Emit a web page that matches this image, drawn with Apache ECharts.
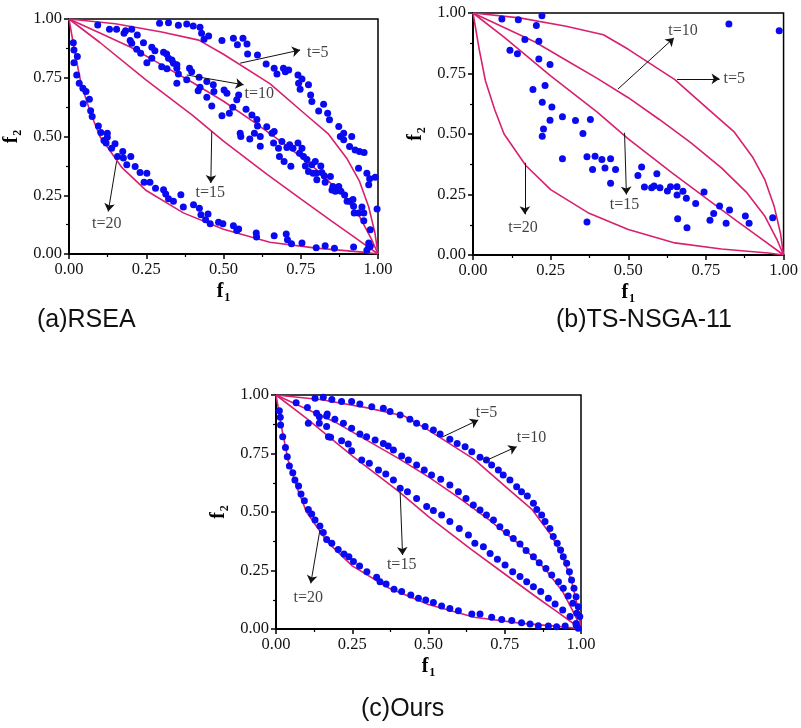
<!DOCTYPE html>
<html>
<head>
<meta charset="utf-8">
<script src="https://cdn.jsdelivr.net/npm/echarts@6/dist/echarts.min.js"></script>
<style>html,body{margin:0;padding:0;background:#fff}#c{width:801px;height:728px}</style>
</head>
<body>
<div id="c"></div>
<script>
// ---------- data ----------
const tickValues = [0, 0.25, 0.5, 0.75, 1];
const panelCaptions = ['(a)RSEA', '(b)TS-NSGA-11', '(c)Ours'];

// true Pareto fronts (polylines)
const curveT5 = [[0,1],[0.15,0.98],[0.3,0.945],[0.42,0.91],[0.5,0.85],[0.65,0.725],[0.76,0.6],[0.84,0.51],[0.9,0.405],[0.94,0.31],[0.97,0.2],[0.99,0.09],[1,0]];
const curveT10 = [[0,1],[0.1,0.94],[0.2,0.88],[0.3,0.805],[0.4,0.73],[0.5,0.65],[0.6,0.56],[0.7,0.465],[0.8,0.36],[0.88,0.26],[0.94,0.16],[0.98,0.06],[1,0]];
const curveT15 = [[0,1],[0.1,0.9],[0.25,0.74],[0.4,0.59],[0.5,0.48],[0.64,0.34],[0.75,0.235],[0.85,0.14],[0.92,0.075],[1,0]];
const curveT20 = [[0,1],[0.02,0.85],[0.04,0.72],[0.07,0.6],[0.1,0.5],[0.17,0.37],[0.25,0.27],[0.37,0.175],[0.5,0.105],[0.65,0.05],[0.8,0.025],[0.95,0.008],[1,0]];

// obtained solutions
const rseaPts = [
[0.014,0.899],[0.016,0.868],[0.027,0.84],[0.016,0.814],[0.025,0.762],[0.033,0.727],[0.045,0.705],[0.055,0.691],[0.046,0.639],[0.066,0.659],
[0.07,0.61],[0.075,0.585],[0.095,0.545],[0.103,0.517],[0.113,0.483],[0.124,0.514],[0.124,0.497],[0.12,0.472],[0.138,0.45],[0.149,0.469],
[0.157,0.415],[0.174,0.436],[0.176,0.408],[0.187,0.38],[0.2,0.415],[0.214,0.372],[0.23,0.347],[0.243,0.305],[0.252,0.344],[0.262,0.305],
[0.28,0.28],[0.306,0.273],[0.313,0.255],[0.322,0.235],[0.338,0.224],[0.362,0.252],[0.37,0.2],[0.403,0.21],[0.422,0.195],[0.427,0.167],
[0.45,0.17],[0.442,0.146],[0.457,0.129],[0.484,0.135],[0.498,0.129],[0.532,0.12],[0.543,0.1],[0.549,0.106],[0.606,0.089],[0.607,0.072],
[0.664,0.078],[0.703,0.085],[0.707,0.061],[0.72,0.044],[0.754,0.047],[0.8,0.027],[0.829,0.035],[0.859,0.025],[0.921,0.03],[0.964,0.016],
[0.97,0.03],[0.975,0.033],
[0.093,0.975],[0.131,0.956],[0.154,0.956],[0.178,0.939],[0.183,0.95],[0.203,0.956],[0.221,0.932],[0.198,0.908],[0.203,0.897],[0.219,0.871],
[0.241,0.899],[0.268,0.88],[0.278,0.865],[0.232,0.854],[0.252,0.814],[0.268,0.833],[0.293,0.982],[0.322,0.984],[0.354,0.973],[0.381,0.979],
[0.402,0.97],[0.424,0.965],[0.429,0.939],[0.437,0.914],[0.452,0.928],[0.306,0.858],[0.316,0.851],[0.322,0.833],[0.333,0.826],[0.338,0.812],
[0.3,0.797],[0.317,0.788],[0.349,0.79],[0.349,0.805],[0.354,0.766],[0.349,0.727],[0.39,0.79],[0.397,0.776],[0.381,0.741],[0.421,0.752],
[0.424,0.71],[0.418,0.695],[0.446,0.734],[0.446,0.667],[0.462,0.63],[0.467,0.72],[0.469,0.691],[0.495,0.908],[0.502,0.698],[0.495,0.588],
[0.511,0.684],[0.519,0.599],[0.53,0.625],[0.532,0.918],[0.545,0.89],[0.563,0.918],[0.576,0.894],[0.578,0.851],[0.549,0.677],[0.543,0.656],
[0.554,0.514],[0.556,0.5],[0.573,0.616],[0.585,0.489],[0.592,0.592],[0.6,0.514],[0.608,0.572],[0.61,0.545],[0.61,0.847],[0.619,0.5],
[0.619,0.458],[0.638,0.809],[0.64,0.542],[0.657,0.514],[0.664,0.79],[0.664,0.521],[0.662,0.472],[0.673,0.766],[0.678,0.45],[0.681,0.415],
[0.694,0.79],[0.7,0.776],[0.711,0.783],[0.689,0.479],[0.696,0.394],[0.705,0.453],[0.714,0.465],[0.718,0.373],[0.725,0.45],[0.741,0.762],
[0.743,0.727],[0.748,0.701],[0.754,0.745],[0.741,0.472],[0.746,0.429],[0.754,0.45],[0.759,0.415],[0.775,0.72],[0.782,0.677],[0.765,0.375],
[0.77,0.402],[0.775,0.351],[0.786,0.649],[0.786,0.38],[0.79,0.344],[0.797,0.394],[0.8,0.344],[0.802,0.316],[0.808,0.609],[0.815,0.375],
[0.818,0.347],[0.824,0.637],[0.826,0.333],[0.829,0.305],[0.837,0.599],[0.843,0.571],[0.846,0.33],[0.851,0.272],[0.854,0.287],[0.862,0.267],
[0.873,0.543],[0.873,0.287],[0.878,0.5],[0.88,0.267],[0.889,0.514],[0.889,0.486],[0.892,0.251],[0.9,0.224],[0.908,0.457],[0.91,0.224],
[0.915,0.5],[0.919,0.232],[0.921,0.203],[0.923,0.174],[0.926,0.443],[0.937,0.365],[0.937,0.174],[0.94,0.436],[0.948,0.2],[0.954,0.174],
[0.955,0.432],[0.964,0.344],[0.97,0.295],[0.954,0.142],[0.973,0.32],[0.975,0.103],[0.991,0.327],[0.997,0.191],[0.97,0.047]
];
const tsPts = [
[0.093,0.975],[0.146,0.972],[0.204,0.948],[0.222,0.989],[0.119,0.846],[0.143,0.832],[0.167,0.89],[0.212,0.883],[0.212,0.81],[0.248,0.787],
[0.193,0.684],[0.232,0.7],[0.223,0.631],[0.254,0.612],[0.248,0.557],[0.227,0.521],[0.223,0.491],[0.288,0.571],[0.33,0.556],[0.378,0.56],
[0.354,0.502],[0.288,0.398],[0.367,0.406],[0.393,0.408],[0.415,0.395],[0.443,0.398],[0.385,0.353],[0.425,0.36],[0.459,0.353],[0.443,0.296],
[0.531,0.329],[0.543,0.364],[0.552,0.281],[0.575,0.278],[0.583,0.285],[0.592,0.336],[0.602,0.278],[0.626,0.264],[0.636,0.282],[0.657,0.282],
[0.657,0.248],[0.676,0.263],[0.687,0.235],[0.717,0.213],[0.744,0.26],[0.659,0.15],[0.689,0.113],[0.763,0.144],[0.775,0.171],[0.794,0.202],
[0.815,0.131],[0.826,0.186],[0.877,0.161],[0.889,0.131],[0.965,0.154],[0.824,0.955],[0.986,0.927],[0.367,0.136]
];
const oursPts = [
[0.011,0.933],[0.014,0.905],[0.015,0.872],[0.022,0.822],[0.031,0.776],[0.037,0.736],[0.044,0.697],[0.055,0.668],[0.062,0.637],[0.074,0.611],
[0.082,0.577],[0.093,0.548],[0.106,0.511],[0.117,0.491],[0.128,0.466],[0.144,0.44],[0.155,0.412],[0.166,0.383],[0.183,0.366],[0.204,0.34],
[0.223,0.32],[0.239,0.309],[0.254,0.288],[0.274,0.269],[0.298,0.245],[0.33,0.221],[0.341,0.202],[0.361,0.192],[0.387,0.17],[0.412,0.16],
[0.442,0.145],[0.467,0.131],[0.491,0.124],[0.516,0.113],[0.543,0.098],[0.57,0.088],[0.598,0.078],[0.642,0.064],[0.669,0.064],[0.707,0.05],
[0.74,0.041],[0.773,0.036],[0.805,0.027],[0.833,0.021],[0.86,0.014],[0.893,0.013],[0.92,0.01],[0.948,0.013],[0.984,0.017],[0.991,0.003],
[0.106,0.879],[0.142,0.907],[0.168,0.919],[0.142,0.879],[0.166,0.865],[0.172,0.822],[0.179,0.819],[0.215,0.805],[0.237,0.791],[0.248,0.762],
[0.281,0.722],[0.306,0.708],[0.336,0.679],[0.36,0.662],[0.385,0.637],[0.407,0.601],[0.431,0.587],[0.461,0.558],[0.494,0.523],[0.516,0.506],
[0.543,0.487],[0.57,0.459],[0.601,0.43],[0.631,0.402],[0.652,0.366],[0.68,0.352],[0.702,0.323],[0.726,0.298],[0.751,0.274],[0.776,0.245],
[0.8,0.224],[0.822,0.202],[0.844,0.181],[0.868,0.16],[0.893,0.131],[0.915,0.107],[0.94,0.081],[0.964,0.053],[0.984,0.024],
[0.066,0.967],[0.103,0.947],[0.133,0.922],[0.166,0.91],[0.193,0.896],[0.221,0.879],[0.248,0.858],[0.275,0.833],[0.297,0.822],[0.325,0.808],
[0.352,0.793],[0.368,0.782],[0.385,0.765],[0.412,0.739],[0.434,0.722],[0.461,0.701],[0.486,0.679],[0.51,0.658],[0.54,0.64],[0.57,0.615],
[0.598,0.587],[0.623,0.558],[0.647,0.53],[0.669,0.509],[0.69,0.487],[0.713,0.466],[0.734,0.437],[0.756,0.412],[0.778,0.387],[0.8,0.363],
[0.82,0.335],[0.844,0.309],[0.863,0.283],[0.885,0.259],[0.904,0.231],[0.926,0.202],[0.942,0.174],[0.958,0.141],[0.973,0.11],[0.986,0.067],
[0.128,0.986],[0.155,0.99],[0.183,0.981],[0.215,0.972],[0.248,0.972],[0.275,0.962],[0.314,0.95],[0.352,0.943],[0.374,0.929],[0.407,0.915],
[0.439,0.896],[0.461,0.879],[0.489,0.865],[0.516,0.85],[0.538,0.833],[0.57,0.811],[0.594,0.793],[0.62,0.779],[0.642,0.758],[0.669,0.734],
[0.69,0.722],[0.707,0.701],[0.729,0.679],[0.745,0.658],[0.767,0.637],[0.789,0.608],[0.805,0.587],[0.824,0.568],[0.844,0.537],[0.855,0.511],
[0.871,0.487],[0.882,0.459],[0.898,0.43],[0.909,0.395],[0.922,0.366],[0.933,0.338],[0.942,0.309],[0.953,0.281],[0.962,0.245],[0.969,0.209],
[0.977,0.174],[0.984,0.138],[0.991,0.095],[0.996,0.053]
];

// annotations: [label, arrow start (on curve), arrow end, label centre] in data units
const annA = [
  ['t=5',  [0.554,0.812],[0.748,0.868],[0.805,0.858]],
  ['t=10', [0.381,0.762],[0.565,0.72], [0.616,0.68]],
  ['t=15', [0.462,0.521],[0.459,0.302],[0.457,0.262]],
  ['t=20', [0.154,0.394],[0.127,0.181],[0.122,0.129]]
];
const annB = [
  ['t=10', [0.467,0.686],[0.647,0.897],[0.676,0.928]],
  ['t=5',  [0.657,0.728],[0.794,0.728],[0.841,0.727]],
  ['t=15', [0.488,0.505],[0.494,0.25], [0.488,0.209]],
  ['t=20', [0.167,0.381],[0.167,0.168],[0.161,0.113]]
];
const annC = [
  ['t=5',  [0.543,0.819],[0.663,0.893],[0.69,0.922]],
  ['t=10', [0.68,0.715], [0.789,0.779],[0.838,0.815]],
  ['t=15', [0.407,0.587],[0.415,0.316],[0.412,0.274]],
  ['t=20', [0.144,0.423],[0.114,0.195],[0.106,0.135]]
];

// ---------- chart ----------
const SERIF = '"Liberation Serif","Times New Roman",serif';
const SANS = '"Liberation Sans",Arial,sans-serif';
const CURVE_COLOR = '#d8206f';
const DOT_COLOR = '#0a0af0';

const grids = [
  {left: 69, top: 19, width: 309, height: 235},
  {left: 473, top: 13, width: 316, height: 242},
  {left: 276, top: 395, width: 305, height: 234}
].map(g => Object.assign({show: true, borderColor: '#000', borderWidth: 1.5, backgroundColor: '#fff'}, g));

function axisName(sub) { return '{f|f}{s|' + sub + '}'; }
const nameRich = {
  f: {fontFamily: SERIF, fontWeight: 'bold', fontSize: 20, color: '#000'},
  s: {fontFamily: SERIF, fontWeight: 'bold', fontSize: 12, color: '#000', padding: [12, 0, 0, 1]}
};
function makeAxis(gi, isX) {
  return {
    type: 'value', gridIndex: gi, min: tickValues[0], max: tickValues[tickValues.length - 1],
    interval: tickValues[1] - tickValues[0],
    name: axisName(isX ? '1' : '2'), nameLocation: 'middle', nameGap: isX ? 26 : 45,
    nameTextStyle: {rich: nameRich},
    axisLine: {show: true, onZero: false, lineStyle: {color: '#000', width: 2}},
    axisTick: {show: true, inside: false, length: 5, lineStyle: {color: '#000', width: 1.5}},
    minorTick: {show: true, splitNumber: 2, length: 3, lineStyle: {color: '#000', width: 1.2}},
    splitLine: {show: false},
    axisLabel: {formatter: v => v.toFixed(2), fontFamily: SERIF, fontSize: 16.5, color: '#111', margin: 7}
  };
}
const xAxes = [0, 1, 2].map(i => makeAxis(i, true));
const yAxes = [0, 1, 2].map(i => makeAxis(i, false));

const series = [];
const curves = [curveT5, curveT10, curveT15, curveT20];
const pointSets = [rseaPts, tsPts, oursPts];
const annSets = [annA, annB, annC];
[0, 1, 2].forEach(gi => {
  curves.forEach(c => series.push({
    type: 'line', xAxisIndex: gi, yAxisIndex: gi, data: c, showSymbol: false, symbol: 'none',
    lineStyle: {color: CURVE_COLOR, width: 1.6}, z: 2, silent: true
  }));
  series.push({
    type: 'scatter', xAxisIndex: gi, yAxisIndex: gi, data: pointSets[gi], symbolSize: 7,
    itemStyle: {color: DOT_COLOR, opacity: 1}, z: 3, silent: true
  });
  const ann = annSets[gi];
  series.push({
    type: 'scatter', xAxisIndex: gi, yAxisIndex: gi, z: 5, silent: true,
    data: ann.map(a => ({value: a[3], name: a[0]})),
    symbolSize: 1, itemStyle: {color: 'rgba(0,0,0,0)'},
    label: {show: true, position: 'inside', formatter: p => p.name, fontFamily: SERIF, fontSize: 16, color: '#111'},
    markLine: {
      silent: true, animation: false, symbol: ['none', 'arrow'], symbolSize: 8,
      lineStyle: {color: '#111', width: 1, type: 'solid'}, label: {show: false},
      data: ann.map(a => [{coord: a[1]}, {coord: a[2]}])
    }
  });
});

const titles = [
  {text: panelCaptions[0], left: 37, top: 308},
  {text: panelCaptions[1], left: 556, top: 308},
  {text: panelCaptions[2], left: 361, top: 697}
].map(t => Object.assign({textStyle: {fontFamily: SANS, fontSize: 25, fontWeight: 'normal', color: '#111'}, padding: 0}, t));

const chart = echarts.init(document.getElementById('c'), null, {renderer: 'canvas'});
chart.setOption({
  animation: false,
  backgroundColor: '#fff',
  title: titles,
  grid: grids,
  xAxis: xAxes,
  yAxis: yAxes,
  series: series
});
</script>
</body>
</html>
